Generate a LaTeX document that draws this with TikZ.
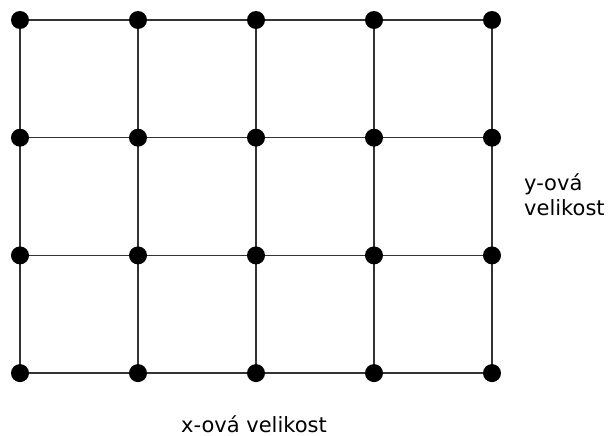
\documentclass[tikz,border=0pt]{standalone}
\usepackage{fontspec}
\setmainfont{DejaVu Sans}
\usetikzlibrary{positioning}

\begin{document}
\begin{tikzpicture}[
            x=1pt, y=-1pt,
            font=\fontsize{21}{25}\selectfont,
            dot/.style={circle, fill=black, inner sep=0pt, minimum size=18pt},
            edge/.style={line width=1.4pt, draw=black!80},
            every node/.style={align=left, inner sep=0pt}
        ]
        \useasboundingbox (0,0) rectangle (610,436);

        % Grid points
        \foreach \i in {0,...,4} {
            \foreach \j in {0,...,3} {
                \coordinate (p-\i-\j) at (20+118*\i, 20+117.7*\j);
            }
        }

        % Lines
        \foreach \j in {0,...,3} {
            \draw[edge] (p-0-\j) -- (p-4-\j);
        }
        \foreach \i in {0,...,4} {
            \draw[edge] (p-\i-0) -- (p-\i-3);
        }

        % Dots
        \foreach \i in {0,...,4} {
            \foreach \j in {0,...,3} {
                \node[dot] (d-\i-\j) at (p-\i-\j) {};
            }
        }

        % Labels
        \node[anchor=base west] (ylabel) at (524,215) {y-ová\\velikost};
        \node[anchor=base] (xlabel) at (254,432) {x-ová velikost};

        \end{tikzpicture}
\end{document}
